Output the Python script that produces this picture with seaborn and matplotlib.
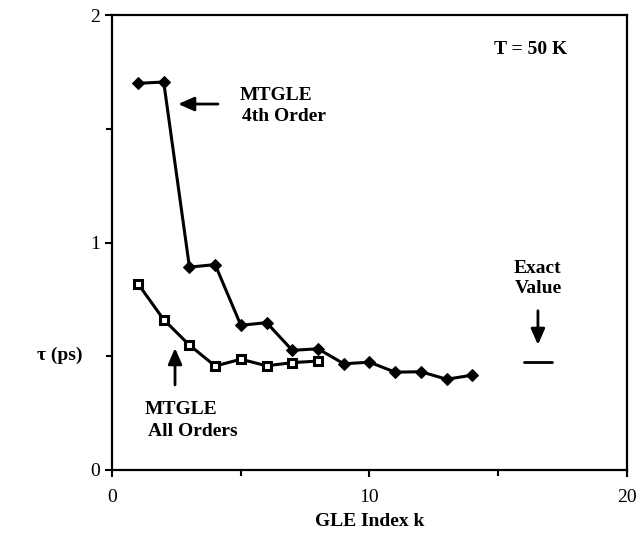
import matplotlib
matplotlib.use("Agg")
import matplotlib.pyplot as plt
import seaborn as sns
import pandas as pd
from matplotlib.ticker import MultipleLocator

# GLE index k and relaxation times tau (ps)
k_4th = [1, 2, 3, 4, 5, 6, 7, 8, 9, 10, 11, 12, 13, 14]
tau_4th = [1.70, 1.706, 0.892, 0.903, 0.636, 0.648, 0.526, 0.533,
           0.467, 0.474, 0.430, 0.432, 0.399, 0.417]
k_all = [1, 2, 3, 4, 5, 6, 7, 8]
tau_all = [0.819, 0.661, 0.549, 0.457, 0.487, 0.458, 0.472, 0.479]
tau_exact = 0.474
exact_k = [16.0, 17.1]

x_ticks = [0, 10, 20]
y_ticks = [0, 1, 2]

sns.set_theme(style="ticks")
plt.rcParams["font.family"] = ["Liberation Serif", "DejaVu Serif"]
plt.rcParams["text.color"] = "black"

fig = plt.figure(figsize=(6.39, 5.5), dpi=100)
ax = fig.add_axes([0.1757, 0.1455, 0.805, 0.827])

df4 = pd.DataFrame({"k": k_4th, "tau": tau_4th})
dfa = pd.DataFrame({"k": k_all, "tau": tau_all})

sns.lineplot(data=df4, x="k", y="tau", ax=ax, color="black", lw=2.2,
             marker="D", markersize=6.5, markeredgecolor="black",
             markerfacecolor="black")
sns.lineplot(data=dfa, x="k", y="tau", ax=ax, color="black", lw=2.2,
             marker="s", markersize=5.4, markeredgecolor="black",
             markeredgewidth=2.2, markerfacecolor="white")

# exact value marker
ax.plot(exact_k, [tau_exact, tau_exact], color="black", lw=2)

ax.set_xlim(0, 20)
ax.set_ylim(0, 2)
ax.set_xticks(x_ticks)
ax.set_yticks(y_ticks)
ax.xaxis.set_minor_locator(MultipleLocator(5))
ax.yaxis.set_minor_locator(MultipleLocator(0.5))
ax.tick_params(axis="both", which="major", direction="out", length=5,
               width=1.5, labelsize=14, color="black", labelcolor="black")
ax.tick_params(axis="both", which="minor", direction="out", length=4,
               width=1.5, color="black")
for s in ax.spines.values():
    s.set_linewidth(1.6)
    s.set_color("black")
ax.tick_params(axis="x", pad=9)
ax.tick_params(axis="y", pad=4)

ax.set_xlabel("")
ax.set_ylabel("")
fig.text(370 / 639, 1 - 522 / 550, "GLE Index k", ha="center", va="center",
         fontsize=14, fontweight="bold", color="black")
fig.text(60 / 639, 1 - 355 / 550, "τ (ps)", ha="center", va="center",
         fontsize=14, fontweight="bold", color="black")

bold = dict(fontsize=14, fontweight="bold", color="black")
ax.text(0.813, 0.925, "T = 50 K", transform=ax.transAxes, ha="center",
        va="center", **bold)
ax.text(4.97, 1.648, "MTGLE", ha="left", va="center", **bold)
ax.text(5.03, 1.556, "4th Order", ha="left", va="center", **bold)
ax.text(1.25, 0.268, "MTGLE", ha="left", va="center", **bold)
ax.text(1.4, 0.167, "All Orders", ha="left", va="center", **bold)
ax.text(16.55, 0.888, "Exact", ha="center", va="center", **bold)
ax.text(16.55, 0.800, "Value", ha="center", va="center", **bold)

arrow = dict(arrowstyle="-|>,head_length=0.8,head_width=0.35", color="black",
             lw=2, shrinkA=0, shrinkB=0)
ax.annotate("", xy=(2.56, 1.609), xytext=(4.11, 1.609), arrowprops=arrow)
ax.annotate("", xy=(2.44, 0.536), xytext=(2.44, 0.374), arrowprops=arrow)
ax.annotate("", xy=(16.55, 0.55), xytext=(16.55, 0.70), arrowprops=arrow)

fig.savefig("out.png", dpi=100)
